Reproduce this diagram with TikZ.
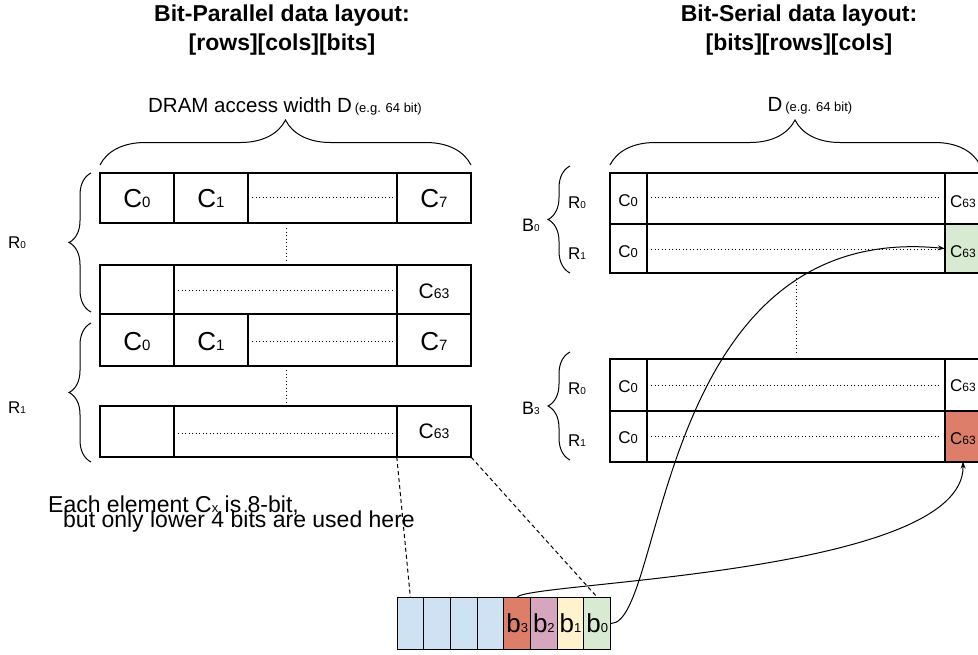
\documentclass[tikz,border=0pt]{standalone}
\usepackage{fontspec}
\setmainfont{Liberation Sans}
\usetikzlibrary{decorations.pathreplacing,arrows.meta}
\definecolor{bluecell}{HTML}{CFE2F3}
\definecolor{redcell}{HTML}{DD7E6B}
\definecolor{pinkcell}{HTML}{D5A6BD}
\definecolor{yellowcell}{HTML}{FFF2CC}
\definecolor{greencell}{HTML}{D9EAD3}
\newcommand{\fsz}[2]{{\fontsize{#1}{#1}\selectfont #2}}
\tikzset{
  rowbox/.style={line width=2.6pt},
  divider/.style={line width=2pt},
  dots/.style={line width=1pt, dash pattern=on 1pt off 2.5pt},
  bitcell/.style={draw, line width=1pt, minimum width=26.7pt, minimum height=51.5pt, inner sep=0pt},
  hotcell/.style={minimum width=36pt, minimum height=50pt, inner sep=0pt},
  widthbrace/.style={decorate, decoration={brace, amplitude=45pt}, line width=1pt},
  rowbrace/.style={decorate, decoration={brace, amplitude=22pt}, line width=1pt},
  link/.style={line width=1pt, -{Stealth[length=7pt,width=5pt]}},
}
\begin{document}
\begin{tikzpicture}[x=1pt,y=-1pt]
\useasboundingbox (0,0) rectangle (978,654);
\clip (0,0) rectangle (978,654);
\node[anchor=base] (ptitle1) at (282,21) {\fsz{23}{\bfseries Bit-Parallel data layout:}};
\node[anchor=base] (ptitle2) at (282,50) {\fsz{23}{\bfseries [rows][cols][bits]}};
\node[anchor=base] (stitle1) at (799,21) {\fsz{23}{\bfseries Bit-Serial data layout:}};
\node[anchor=base] (stitle2) at (799,50) {\fsz{23}{\bfseries [bits][rows][cols]}};

\node[anchor=base] (pwidth) at (285,112) {\fsz{20.5}{DRAM access width D} \fsz{13}{(e.g. 64 bit)}};
\draw[widthbrace] (100,165) -- (471,165);
\node[anchor=base] (swidth) at (810,111) {\fsz{20.5}{D} \fsz{13}{(e.g. 64 bit)}};
\draw[widthbrace] (610,165) -- (980,165);

\draw[rowbrace] (91,312) -- (91,173);
\node (r0) at (17,243) {\fsz{17}{R}\fsz{10}{0}};
\draw[rowbrace] (91,462) -- (91,323);
\node (r1) at (17,408) {\fsz{17}{R}\fsz{10}{1}};

\draw[rowbox] (100,173) rectangle (471,223);
\draw[divider] (174,173) -- (174,223) (248,173) -- (248,223) (397,173) -- (397,223);
\draw[dots] (252,197) -- (393,197);
\node (r0c0) at (137,199) {\fsz{26}{C}\fsz{15}{0}};
\node (r0c1) at (211,199) {\fsz{26}{C}\fsz{15}{1}};
\node (r0c7) at (434,199) {\fsz{26}{C}\fsz{15}{7}};
\draw[dots] (286,228) -- (286,263);
\draw[rowbox] (100,265) rectangle (471,314);
\draw[divider] (174,265) -- (174,314) (397,265) -- (397,314);
\draw[dots] (178,290) -- (393,290);
\node (r0c63) at (434,291) {\fsz{21}{C}\fsz{14}{63}};

\draw[rowbox] (100,314) rectangle (471,366);
\draw[divider] (174,314) -- (174,366) (248,314) -- (248,366) (397,314) -- (397,366);
\draw[dots] (252,341) -- (393,341);
\node (r1c0) at (137,342) {\fsz{26}{C}\fsz{15}{0}};
\node (r1c1) at (211,342) {\fsz{26}{C}\fsz{15}{1}};
\node (r1c7) at (434,342) {\fsz{26}{C}\fsz{15}{7}};
\draw[dots] (286,370) -- (286,404);
\node[minimum width=74pt, minimum height=51pt, inner sep=0pt] (r1c63) at (434,431.5) {\fsz{21}{C}\fsz{14}{63}};
\draw[rowbox] (100,406) rectangle (471,457);
\draw[divider] (174,406) -- (174,457) (397,406) -- (397,457);
\draw[dots] (178,433) -- (393,433);

\node[anchor=base west, inner sep=0pt] (note1) at (48,512) {\fsz{23}{Each element C}\fsz{13}{x}\fsz{23}{ is 8-bit,}};
\node[anchor=base west, inner sep=0pt] (note2) at (63,527) {\fsz{23}{but only lower 4 bits are used here}};

\draw[rowbrace] (570,273) -- (570,166);
\node (b0) at (531,225) {\fsz{18}{B}\fsz{10}{0}};
\node (b0r0) at (577,203) {\fsz{17}{R}\fsz{10}{0}};
\node (b0r1) at (577,254) {\fsz{17}{R}\fsz{10}{1}};
\node[hotcell, fill=greencell] (b0r1c63) at (963,248.5) {};
\node (b0r1c63t) at (963,252) {\fsz{17}{C}\fsz{12}{63}};
\draw[rowbox] (610,173) rectangle (990,273);
\draw[rowbox] (610,224) -- (990,224);
\draw[divider] (647,173) -- (647,273) (945,173) -- (945,273);
\draw[dots] (651,197) -- (941,197) (651,249) -- (941,249);
\node (b0r0c0) at (628,201) {\fsz{17}{C}\fsz{13}{0}};
\node (b0r1c0) at (628,252) {\fsz{17}{C}\fsz{13}{0}};
\node (b0r0c63) at (963,202) {\fsz{17}{C}\fsz{12}{63}};
\draw[dots] (796,278) -- (796,355);

\draw[rowbrace] (570,460) -- (570,352);
\node (b3) at (531,408) {\fsz{18}{B}\fsz{10}{3}};
\node (b3r0) at (577,389) {\fsz{17}{R}\fsz{10}{0}};
\node (b3r1) at (577,441) {\fsz{17}{R}\fsz{10}{1}};
\node[hotcell, fill=redcell] (b3r1c63) at (963,436.5) {};
\node (b3r1c63t) at (963,439) {\fsz{17}{C}\fsz{12}{63}};
\draw[rowbox] (610,359) rectangle (990,462);
\draw[rowbox] (610,411) -- (990,411);
\draw[divider] (647,359) -- (647,462) (945,359) -- (945,462);
\draw[dots] (651,385) -- (941,385) (651,436) -- (941,436);
\node (b3r0c0) at (628,387) {\fsz{17}{C}\fsz{13}{0}};
\node (b3r1c0) at (628,438) {\fsz{17}{C}\fsz{13}{0}};
\node (b3r0c63) at (963,386) {\fsz{17}{C}\fsz{12}{63}};

\node[bitcell, fill=bluecell] (bit7) at (410.35,623.5) {};
\node[bitcell, fill=bluecell] (bit6) at (437.05,623.5) {};
\node[bitcell, fill=bluecell] (bit5) at (463.75,623.5) {};
\node[bitcell, fill=bluecell] (bit4) at (490.45,623.5) {};
\node[bitcell, fill=redcell] (bit3) at (517.15,623.5) {\fsz{26}{b}\fsz{13}{3}};
\node[bitcell, fill=pinkcell] (bit2) at (543.85,623.5) {\fsz{26}{b}\fsz{13}{2}};
\node[bitcell, fill=yellowcell] (bit1) at (570.55,623.5) {\fsz{26}{b}\fsz{13}{1}};
\node[bitcell, fill=greencell] (bit0) at (597.25,623.5) {\fsz{26}{b}\fsz{13}{0}};

\draw[line width=1pt, dash pattern=on 4pt off 3pt] (r1c63.south west) -- (bit7.north);
\draw[line width=1pt, dash pattern=on 4pt off 3pt] (r1c63.south east) -- (bit0.north);
\draw[link] (bit0.east) .. controls (665,623) and (655,220) .. (b0r1c63.west);
\draw[link] (bit3.north) .. controls (525,582) and (965,575) .. (b3r1c63.south);
\end{tikzpicture}
\end{document}
